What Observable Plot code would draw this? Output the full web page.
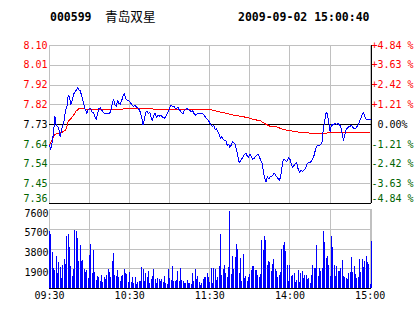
<!DOCTYPE html>
<html><head><meta charset="utf-8">
<script src="https://cdn.jsdelivr.net/npm/d3@7"></script>
<script src="https://cdn.jsdelivr.net/npm/@observablehq/plot@0.6"></script>
<style>
html,body{margin:0;padding:0;background:#fff;}
#chart{position:relative;width:414px;height:314px;overflow:hidden;background:#fff;}
#chart svg{position:absolute;left:0;shape-rendering:crispEdges;}
#chart svg text{shape-rendering:auto;}
.t{position:absolute;top:11px;line-height:12px;white-space:pre;color:#000;}
.mono{font-family:"DejaVu Sans Mono",monospace;font-size:11.5px;font-weight:bold;}
.cjk{font-family:"Noto Sans CJK SC",sans-serif;font-size:12.7px;top:10px;}
</style></head>
<body><div id="chart">
<div class="t mono" id="code" style="left:50px"></div>
<div class="t cjk" id="name" style="left:105px"></div>
<div class="t mono" id="stamp" style="left:238px"></div>
</div>
<script>
const stockCode = "000599";
const stockName = "青岛双星";
const timestamp = "2009-09-02 15:00:40";
const prevClose = 7.73;
const priceTicks = [8.104, 8.011, 7.917, 7.824, 7.73, 7.636, 7.543, 7.449, 7.356];
const priceTickLabels = ["8.10","8.01","7.92","7.82","7.73","7.64","7.54","7.45","7.36"];
const pctLabels = ["+4.84 %","+3.63 %","+2.42 %","+1.21 %","\u00a00.00%","-1.21 %","-2.42 %","-3.63 %","-4.84 %"];
const volTicks = [1900, 3800, 5700, 7600];
const timeGrid = [0, 30, 60, 90, 120, 150, 180, 210, 240];
const timeLabelMinutes = [0, 60, 120, 180, 240];
const timeLabels = ["09:30","10:30","11:30","14:00","15:00"];

// one price per minute, 09:30 .. 15:00
const prices = [
7.632,7.612,7.648,7.688,7.77,7.727,7.722,7.71,7.672,7.703,
7.727,7.75,7.797,7.813,7.868,7.86,7.826,7.842,7.873,7.884,
7.892,7.905,7.895,7.889,7.868,7.845,7.816,7.797,7.782,7.8,
7.805,7.805,7.786,7.786,7.766,7.753,7.782,7.805,7.81,7.8,
7.789,7.782,7.782,7.782,7.782,7.782,7.797,7.829,7.848,7.821,
7.816,7.843,7.829,7.826,7.843,7.863,7.876,7.853,7.845,7.843,
7.837,7.829,7.821,7.816,7.819,7.813,7.81,7.801,7.789,7.763,
7.727,7.754,7.789,7.791,7.782,7.789,7.763,7.75,7.774,7.782,
7.763,7.774,7.769,7.774,7.769,7.763,7.758,7.769,7.782,7.791,
7.81,7.821,7.816,7.816,7.808,7.805,7.813,7.8,7.794,7.786,
7.782,7.797,7.803,7.805,7.8,7.797,7.791,7.797,7.784,7.774,
7.779,7.782,7.784,7.783,7.782,7.779,7.771,7.763,7.755,7.75,
7.735,7.727,7.719,7.727,7.706,7.709,7.695,7.684,7.664,7.672,
7.659,7.656,7.653,7.632,7.637,7.621,7.632,7.648,7.643,7.637,
7.609,7.577,7.549,7.558,7.568,7.577,7.59,7.593,7.582,7.574,
7.59,7.58,7.565,7.569,7.577,7.583,7.59,7.58,7.561,7.549,
7.514,7.475,7.459,7.482,7.472,7.481,7.485,7.489,7.499,7.493,
7.483,7.474,7.467,7.48,7.53,7.565,7.565,7.557,7.557,7.574,
7.565,7.543,7.525,7.536,7.546,7.549,7.522,7.503,7.512,7.509,
7.511,7.517,7.53,7.546,7.551,7.549,7.557,7.568,7.584,7.609,
7.628,7.632,7.632,7.635,7.648,7.711,7.75,7.788,7.779,7.742,
7.695,7.731,7.727,7.731,7.735,7.731,7.735,7.727,7.722,7.688,
7.656,7.679,7.706,7.714,7.719,7.722,7.725,7.716,7.709,7.711,
7.719,7.727,7.744,7.758,7.779,7.785,7.769,7.754,7.754,7.754,
7.754];

// average price line, read at these minutes
const avgMinutes = [0,2,4,7,10,12,13,14,16,18,20,22,33,45,53,56,77,78,120,123,128,133,138,143,148,153,158,162,165,170,175,181,185,192,207,209,227,240];
const avgPrices  = [7.632,7.659,7.684,7.688,7.695,7.703,7.72,7.745,7.758,7.774,7.794,7.805,7.801,7.801,7.801,7.805,7.805,7.8,7.8,7.797,7.789,7.782,7.774,7.769,7.763,7.754,7.747,7.731,7.722,7.719,7.706,7.7,7.695,7.69,7.688,7.692,7.692,7.694];

// volume per minute bar
const volumes = [
5500,5200,3480,1930,1740,3090,1450,2510,2030,970,
2220,2800,2320,5020,5200,3960,2120,1160,1835,5600,
5500,4830,2600,4150,2600,2700,1835,1550,1740,970,
3190,4250,1450,3670,1550,770,1160,1060,680,1260,
580,1060,870,1260,1835,1550,1060,2600,3380,1260,
1160,1740,1060,680,1160,1260,1835,1450,1350,580,
1550,580,1060,480,1060,390,580,680,680,2030,
1835,680,1450,1060,1640,480,870,1160,1835,870,
480,970,870,680,870,580,1160,480,390,1835,
970,770,2120,680,680,770,1640,680,1930,770,
680,480,480,770,480,480,390,1450,680,1835,
870,1160,580,290,480,870,1060,1060,1450,1060,
580,
1930,480,1930,1835,770,1060,2120,5200,1260,1835,
2220,1450,1060,2030,7440,1350,3090,1835,2990,4250,
3770,1450,2900,680,3280,970,1160,680,1060,1350,
1740,2120,2120,1740,1740,1260,1060,1350,4640,3670,
5020,4640,2220,2600,2510,1640,2320,2800,1835,1640,
1060,1260,1550,3770,4150,4440,3570,2220,680,2220,
1160,1260,1450,580,770,1740,580,1450,1640,970,
1260,1260,870,970,480,1260,2220,1930,1930,4150,
1160,1930,1640,1930,5500,4440,2900,3090,2220,1160,
5020,3960,2220,1160,2120,1640,1640,1930,2700,1160,
1060,970,870,1450,1550,2990,1550,2120,1350,970,
1060,2800,1550,2800,2030,2600,3090,2510,2320,390,
4540];

document.getElementById("code").textContent = stockCode;
document.getElementById("name").textContent = stockName;
document.getElementById("stamp").textContent = timestamp;

const RED = "#ff0000", GREEN = "#006400", GRID = "#c0c0c0";
const style = {fontFamily: "DejaVu Sans Mono, monospace", fontSize: "10px", background: "transparent", overflow: "visible"};
const idx = d3.range(priceTicks.length);

const price = Plot.plot({
  width: 414, height: 206,
  marginLeft: 49, marginRight: 43, marginTop: 45, marginBottom: 3,
  x: {domain: [0, 241], axis: null},
  y: {domain: [priceTicks[8], priceTicks[0]], axis: null},
  style,
  marks: [
    Plot.ruleY(priceTicks, {stroke: GRID}),
    Plot.ruleX(timeGrid, {stroke: GRID}),
    Plot.ruleX([241], {stroke: "#000"}),
    Plot.ruleY([prevClose, priceTicks[8]], {stroke: "#000"}),
    Plot.line(avgPrices, {x: (d, i) => avgMinutes[i], y: d => d, stroke: RED, strokeWidth: 1}),
    Plot.line(prices, {x: (d, i) => i, y: d => d, stroke: "#0000ff", strokeWidth: 1}),
    // left labels
    Plot.text(idx, {filter: i => i < 4, y: i => priceTicks[i], text: i => priceTickLabels[i], frameAnchor: "left", textAnchor: "end", dx: -2, fill: RED}),
    Plot.text(idx, {filter: i => i === 4, y: i => priceTicks[i], text: i => priceTickLabels[i], frameAnchor: "left", textAnchor: "end", dx: -2, fill: "#000"}),
    Plot.text(idx, {filter: i => i > 4 && i < 8, y: i => priceTicks[i], text: i => priceTickLabels[i], frameAnchor: "left", textAnchor: "end", dx: -2, fill: GREEN}),
    Plot.text(idx, {filter: i => i === 8, y: i => priceTicks[i], text: i => priceTickLabels[i], frameAnchor: "left", textAnchor: "end", dx: -2, dy: -5, fill: GREEN}),
    // right labels
    Plot.text(idx, {filter: i => i < 4, y: i => priceTicks[i], text: i => pctLabels[i], frameAnchor: "right", textAnchor: "start", dx: 0, fill: RED}),
    Plot.text(idx, {filter: i => i === 4, y: i => priceTicks[i], text: i => pctLabels[i], frameAnchor: "right", textAnchor: "start", dx: 0, fill: "#000"}),
    Plot.text(idx, {filter: i => i > 4 && i < 8, y: i => priceTicks[i], text: i => pctLabels[i], frameAnchor: "right", textAnchor: "start", dx: 0, fill: GREEN}),
    Plot.text(idx, {filter: i => i === 8, y: i => priceTicks[i], text: i => pctLabels[i], frameAnchor: "right", textAnchor: "start", dx: 0, dy: -5, fill: GREEN})
  ]
});
price.style.top = "0px";

const vol = Plot.plot({
  width: 414, height: 108,
  marginLeft: 49, marginRight: 43, marginTop: 3, marginBottom: 26,
  x: {domain: [0, 241], axis: null},
  y: {domain: [0, volTicks[3]], axis: null},
  style,
  marks: [
    Plot.ruleY(volTicks, {stroke: GRID}),
    Plot.ruleX(timeGrid, {stroke: GRID}),
    Plot.ruleX([241], {stroke: GRID}),
    Plot.ruleX(volumes, {x: (d, i) => i, y1: 0, y2: d => d, stroke: "#0000ff", strokeWidth: 1}),
    Plot.ruleY([0], {stroke: "#000"}),
    Plot.text(volTicks, {y: d => d, text: d => String(d), frameAnchor: "left", textAnchor: "end", dx: -1, dy: 4, fill: "#000"}),
    Plot.text(timeLabels, {x: (d, i) => timeLabelMinutes[i], text: d => d, frameAnchor: "bottom", dy: 10, fill: "#000"})
  ]
});
vol.style.top = "206px";

const chart = document.getElementById("chart");
chart.appendChild(price);
chart.appendChild(vol);
</script>
</body></html>
